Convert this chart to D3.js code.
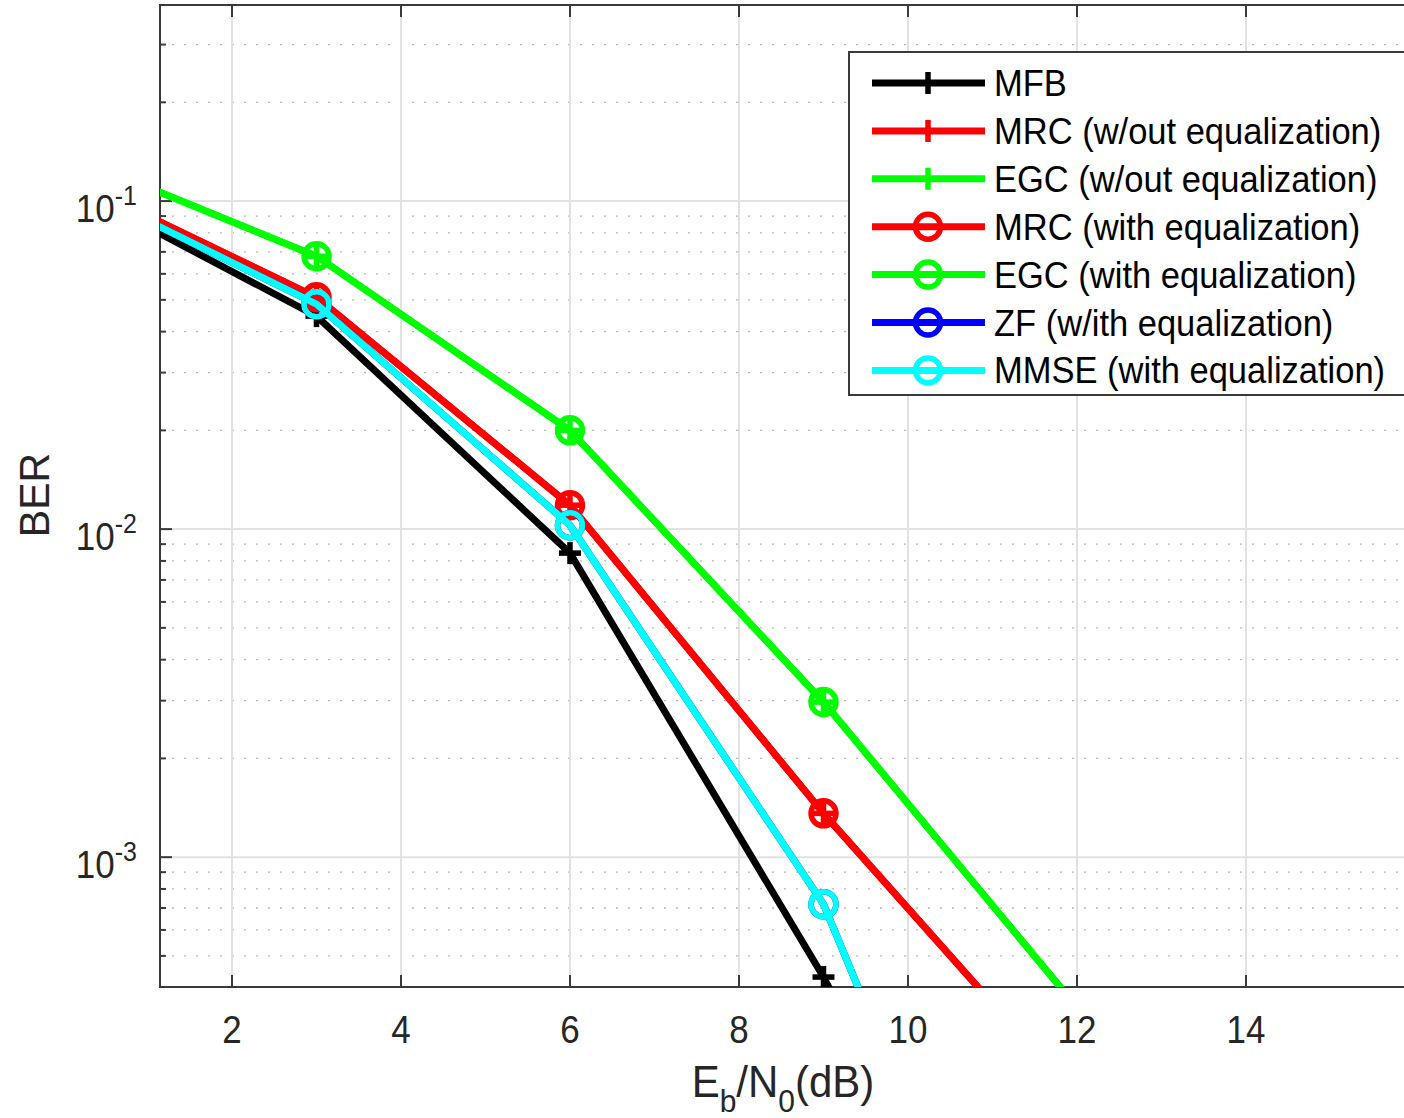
<!DOCTYPE html>
<html><head><meta charset="utf-8">
<script src="https://cdn.jsdelivr.net/npm/d3@7"></script>
<style>
body{margin:0;background:#fff;}
svg{display:block;font-family:"Liberation Sans",Arial,Helvetica,sans-serif;}
</style>
</head><body>
<svg id="chart" width="1404" height="1118"></svg>
<script>
// ---- data ----
const snrDb      = [0, 3, 6, 9, 12];
const mfbBer     = [0.114, 0.0446, 0.00845, 0.000431, 0.000015];
const mrcNoEqBer = [0.120, 0.0509, 0.01183, 0.00136, 0.000184];
const egcNoEqBer = [0.1406, 0.0679, 0.0200, 0.00297, 0.000349];
const mrcEqBer   = [0.120, 0.0509, 0.01183, 0.00136, 0.000184];
const egcEqBer   = [0.1406, 0.0679, 0.0200, 0.00297, 0.000349];
const zfEqBer    = [0.1167, 0.0485, 0.01028, 0.000719, 0.00001];
const mmseEqBer  = [0.1167, 0.0485, 0.01028, 0.000719, 0.00001];
const seriesNames = ["MFB","MRC (w/out equalization)","EGC (w/out equalization)",
  "MRC (with equalization)","EGC (with equalization)","ZF (w/ith equalization)","MMSE (with equalization)"];
const seriesColors = ["#000000","#ff0000","#00ff00","#ff0000","#00ff00","#0000ff","#00ffff"];
const seriesMarkers = ["plus","plus","plus","circle","circle","circle","circle"];
const seriesValues = [mfbBer, mrcNoEqBer, egcNoEqBer, mrcEqBer, egcEqBer, zfEqBer, mmseEqBer];
const xTicks = [2,4,6,8,10,12,14];
const yMajorTicks = [1e-1, 1e-2, 1e-3];
const yTickExp = ["-1","-2","-3"];

// ---- layout ----
const svg = d3.select("#chart");
const L = 160, T = 5, R = 1415, B = 987;
const x = d3.scaleLinear().domain([1.148, 16]).range([L, R]);
const y = d3.scaleLog().domain([4.02e-4, 0.396]).range([B, T]);
const axisColor = "#3a3a3a", textColor = "#262626";

// minor y values
const yMinor = [];
for (let e = -4; e <= 0; e++) for (let k = 2; k <= 9; k++) {
  const v = k * Math.pow(10, e);
  if (v > y.domain()[0] && v < y.domain()[1]) yMinor.push(v);
}

const grid = svg.append("g");
grid.selectAll(".ymin").data(yMinor).enter().append("line")
  .attr("x1", L).attr("x2", R).attr("y1", d => y(d)).attr("y2", d => y(d))
  .attr("stroke", "#b8b8b8").attr("stroke-width", 1.3).attr("stroke-dasharray", "2,10");
grid.selectAll(".ymaj").data(yMajorTicks).enter().append("line")
  .attr("x1", L).attr("x2", R).attr("y1", d => y(d)).attr("y2", d => y(d))
  .attr("stroke", "#e2e2e2").attr("stroke-width", 2);
grid.selectAll(".xmaj").data(xTicks).enter().append("line")
  .attr("x1", d => x(d)).attr("x2", d => x(d)).attr("y1", T).attr("y2", B)
  .attr("stroke", "#e2e2e2").attr("stroke-width", 2);

// axes box + ticks
const ax = svg.append("g");
ax.append("rect").attr("x", L).attr("y", T).attr("width", R - L).attr("height", B - T)
  .attr("fill", "none").attr("stroke", axisColor).attr("stroke-width", 2);
ax.selectAll(".xtb").data(xTicks).enter().append("line")
  .attr("x1", d => x(d)).attr("x2", d => x(d)).attr("y1", B).attr("y2", B - 12)
  .attr("stroke", axisColor).attr("stroke-width", 2);
ax.selectAll(".xtt").data(xTicks).enter().append("line")
  .attr("x1", d => x(d)).attr("x2", d => x(d)).attr("y1", T).attr("y2", T + 12)
  .attr("stroke", axisColor).attr("stroke-width", 2);
ax.selectAll(".ytM").data(yMajorTicks).enter().append("line")
  .attr("x1", L).attr("x2", L + 12).attr("y1", d => y(d)).attr("y2", d => y(d))
  .attr("stroke", axisColor).attr("stroke-width", 2);
ax.selectAll(".ytm").data(yMinor).enter().append("line")
  .attr("x1", L).attr("x2", L + 6).attr("y1", d => y(d)).attr("y2", d => y(d))
  .attr("stroke", axisColor).attr("stroke-width", 2);

// tick labels
svg.append("g").selectAll("text").data(xTicks).enter().append("text")
  .attr("transform", d => `translate(${x(d)},1043) scale(1,1.12)`)
  .attr("text-anchor", "middle").attr("font-size", 35).attr("fill", textColor)
  .text(d => d);
const yl = svg.append("g").selectAll("text").data(yMajorTicks).enter().append("text")
  .attr("transform", d => `translate(137,${y(d) + 21}) scale(1,1.12)`)
  .attr("text-anchor", "end").attr("font-size", 35).attr("fill", textColor);
yl.append("tspan").text("10");
yl.append("tspan").attr("font-size", 25).attr("dy", -15).text((d, i) => yTickExp[i]);

// axis labels
svg.append("text").attr("transform", "translate(49,495) rotate(-90) scale(1,1.06)")
  .attr("text-anchor", "middle").attr("font-size", 41).attr("fill", textColor).text("BER");
const xl = svg.append("text").attr("transform", "translate(783,1097) scale(1,1.06)")
  .attr("text-anchor", "middle").attr("font-size", 42).attr("fill", textColor);
xl.append("tspan").text("E");
xl.append("tspan").attr("font-size", 30).attr("dy", 14).text("b");
xl.append("tspan").attr("dy", -14).text("/N");
xl.append("tspan").attr("font-size", 30).attr("dy", 14).text("0");
xl.append("tspan").attr("dy", -14).text("(dB)");

// data
svg.append("defs").append("clipPath").attr("id", "clip")
  .append("rect").attr("x", L).attr("y", T).attr("width", R - L).attr("height", B - T);
const plot = svg.append("g").attr("clip-path", "url(#clip)");
const line = d3.line().x(d => x(d[0])).y(d => y(d[1]));

function drawMarker(g, type, cx, cy, color) {
  if (type === "plus") {
    g.append("line").attr("x1", cx - 11).attr("x2", cx + 11).attr("y1", cy).attr("y2", cy)
      .attr("stroke", color).attr("stroke-width", 5.5);
    g.append("line").attr("x1", cx).attr("x2", cx).attr("y1", cy - 11).attr("y2", cy + 11)
      .attr("stroke", color).attr("stroke-width", 5.5);
  } else {
    g.append("circle").attr("cx", cx).attr("cy", cy).attr("r", 12.5)
      .attr("fill", "none").attr("stroke", color).attr("stroke-width", 5.5);
  }
}

seriesValues.forEach((vals, i) => {
  const pts = snrDb.map((s, j) => [s, vals[j]]);
  const g = plot.append("g");
  g.append("path").attr("d", line(pts)).attr("fill", "none")
    .attr("stroke", seriesColors[i]).attr("stroke-width", 7).attr("stroke-linejoin", "round");
  pts.forEach(p => drawMarker(g, seriesMarkers[i], x(p[0]), y(p[1]), seriesColors[i]));
});

// legend
const lg = svg.append("g");
lg.append("rect").attr("x", 849).attr("y", 52).attr("width", 620).attr("height", 343)
  .attr("fill", "#fff").attr("stroke", axisColor).attr("stroke-width", 2);
seriesNames.forEach((name, i) => {
  const ry = 83 + i * 47.9;
  const g = lg.append("g");
  g.append("line").attr("x1", 872).attr("x2", 985).attr("y1", ry).attr("y2", ry)
    .attr("stroke", seriesColors[i]).attr("stroke-width", 7);
  drawMarker(g, seriesMarkers[i], 928, ry, seriesColors[i]);
  g.append("text").attr("transform", `translate(994,${ry + 13}) scale(1,1.06)`)
    .attr("font-size", 34.5).attr("fill", "#000").text(name);
});
</script>
</body></html>
